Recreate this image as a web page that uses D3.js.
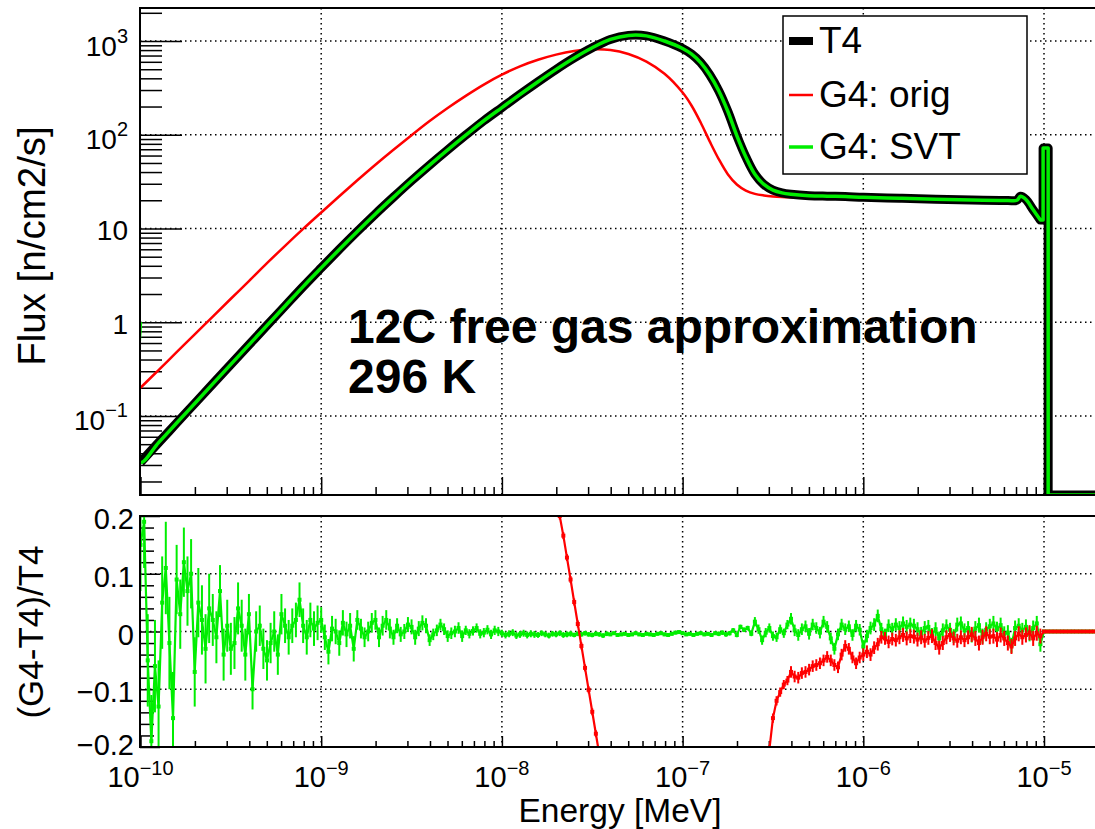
<!DOCTYPE html>
<html>
<head>
<meta charset="utf-8">
<script src="https://cdn.jsdelivr.net/npm/d3@7"></script>
<style>
  body { margin: 0; background: #fff; }
  text { font-family: "Liberation Sans", Arial, sans-serif; fill: #000; }
</style>
</head>
<body>
<svg id="chart" width="1095" height="829"></svg>
<script>
// ---------- data ----------

// top panel: log10(E/MeV) sample points
const topLogE = [
  -10.0, -9.9, -9.8, -9.7, -9.6, -9.5, -9.4, -9.3, -9.2, -9.1,
  -9.0, -8.9, -8.8, -8.7, -8.6, -8.5, -8.4, -8.3, -8.2, -8.1,
  -8.0, -7.9, -7.8, -7.7, -7.6, -7.5, -7.4, -7.3, -7.2, -7.1,
  -7.0, -6.95, -6.9, -6.85, -6.8, -6.75, -6.7, -6.65, -6.6, -6.55,
  -6.5, -6.45, -6.4, -6.3, -6.2, -6.1, -6.0, -5.8, -5.6, -5.4,
  -5.2, -5.15, -5.13, -5.1, -5.06, -5.02, -5.005, -5.005, -4.977, -4.977,
  -4.7
];

// T4 flux [n/cm2/s]
const t4Flux = [
  0.032, 0.052, 0.084, 0.136, 0.220, 0.355, 0.573, 0.925, 1.49, 2.40,
  3.80, 5.98, 9.31, 14.3, 21.6, 32.3, 47.5, 69.0, 99.1, 141,
  195, 269, 368, 498, 660, 848, 1040, 1148, 1135, 1000,
  832, 724, 589, 437, 295, 178, 98, 58, 38, 29.5,
  25.7, 24.0, 23.2, 22.4, 22.1, 21.9, 21.5, 21.0, 20.5, 20.1,
  19.9, 20.0, 22.1, 20.4, 15.8, 12.3, 12.3, 72, 72, 0,
  0
];

// G4: orig flux [n/cm2/s]
const origFlux = [
  0.200, 0.309, 0.479, 0.741, 1.15, 1.78, 2.75, 4.27, 6.53, 9.89,
  14.8, 22.1, 32.7, 47.9, 69.2, 98.9, 140, 193, 260, 343,
  437, 537, 631, 716, 782, 817, 804, 728, 603, 447,
  282, 204, 135, 85, 55, 38, 29.5, 25.4, 23.4, 22.5,
  22.0, 21.7, 21.5, 21.2, 21.0, 20.9, 20.8, 20.7, 20.3, 20.0,
  19.8, 19.9, 22.0, 20.3, 15.8, 12.3, 12.3, 72, 72, 0,
  0
];

// G4: SVT lies on T4 within the line width; its first bin reads 1.0
const svtLogE = [-10.0].concat(topLogE);
const svtFlux = [1.0].concat(t4Flux);

// bottom panel: ratio histogram binning
const ratioStartLogE = -10;
const ratioStepLogE = 0.02;

// (G4:SVT - T4)/T4, one value per bin from 1e-10 to 1e-5, then the flat tail to 2e-5
const svtRatio = [
  // 1e-10 .. 1e-9
  0.15, 0.19, -0.05, -0.19, -0.06, -0.13, 0.05, 0.11, -0.02, -0.15,
  0.09, 0.03, 0.12, 0.07, 0.10, -0.07, 0.05, 0.02, -0.03, 0.04,
  0.02, -0.01, 0.07, -0.04, 0.01, -0.03, -0.02, 0.04, 0.01, -0.04,
  0.03, -0.10, 0.0, 0.01, -0.03, -0.05, -0.02, 0.0, -0.04, 0.03,
  0.01, -0.01, 0.01, 0.02, 0.055, 0.01, -0.01, 0.02, 0.005, 0.015,
  // 1e-9 .. 1e-8
  0.02, -0.01, -0.035, 0.005, 0.0, -0.02, 0.015, -0.005, 0.01, -0.03,
  0.02, 0.005, -0.01, 0.0, 0.015, 0.02, -0.01, 0.01, 0.02, 0.005,
  -0.01, 0.01, -0.005, 0.0, 0.012, 0.008, -0.01, 0.005, 0.015, 0.01,
  -0.015, -0.005, 0.002, 0.012, 0.004, -0.008, -0.003, 0.0, 0.006, -0.008,
  0.002, -0.004, 0.001, 0.006, -0.004, -0.002, 0.003, -0.005, 0.002, 0.0,
  // 1e-8 .. 1e-7
  -0.003, -0.006, -0.004, -0.002, -0.007, -0.005, -0.003, -0.006, -0.004, -0.005,
  -0.006, -0.003, -0.005, -0.007, -0.004, -0.005, -0.003, -0.006, -0.005, -0.004,
  -0.006, -0.004, -0.005, -0.003, -0.005, -0.006, -0.004, -0.005, -0.007, -0.004,
  -0.005, -0.003, -0.006, -0.005, -0.004, -0.006, -0.005, -0.003, -0.005, -0.006,
  -0.004, -0.005, -0.006, -0.004, -0.003, -0.005, -0.006, -0.004, -0.002, -0.001,
  // 1e-7 .. 1e-6
  -0.003, -0.005, -0.004, -0.006, -0.004, -0.003, -0.005, -0.004, -0.006, -0.003,
  -0.004, -0.002, -0.005, -0.003, 0.002, -0.006, 0.008, 0.003, 0.006, -0.004,
  0.017, 0.004, -0.015, -0.002, 0.006, -0.008, -0.01, 0.004, -0.003, 0.012,
  0.022, 0.002, -0.006, 0.004, 0.009, -0.004, 0.012, 0.006, -0.002, 0.017,
  0.008, -0.012, -0.03, -0.005, 0.012, 0.004, 0.009, -0.006, 0.01, 0.003,
  // 1e-6 .. 1e-5
  -0.026, -0.008, 0.006, 0.012, 0.027, 0.004, -0.006, 0.01, 0.004, 0.012,
  0.006, 0.014, 0.008, 0.012, 0.01, 0.004, -0.004, 0.006, 0.008, -0.006,
  0.004, -0.012, 0.002, 0.009, 0.003, -0.008, 0.012, 0.014, 0.002, 0.006,
  -0.006, 0.005, 0.011, -0.008, 0.003, 0.009, 0.014, 0.004, 0.011, -0.004,
  -0.002, -0.024, 0.006, 0.01, 0.002, 0.008, -0.004, 0.006, 0.014, -0.022,
  // 1e-5 .. 2e-5
  0, 0, 0, 0, 0, 0, 0, 0, 0, 0, 0, 0, 0, 0, 0, 0
];

// error half-widths of the SVT ratio, one per 10 bins
const svtRatioErr = [
  0.08, 0.06, 0.045, 0.035, 0.03,
  0.022, 0.017, 0.013, 0.01, 0.008,
  0.006, 0.005, 0.004, 0.003, 0.003,
  0.003, 0.004, 0.008, 0.01, 0.01,
  0.011, 0.012, 0.012, 0.013, 0.013,
  0, 0
];

// (G4:orig - T4)/T4, steep crossing near 3e-8 (first bin index 114)
const origRatioSteepStart = 114;
const origRatioSteep = [
  0.28, 0.24, 0.20, 0.166, 0.128, 0.09, 0.051, 0.013, -0.025, -0.063,
  -0.101, -0.139, -0.177, -0.215, -0.253
];

// (G4:orig - T4)/T4, recovery above 3e-7 (first bin index 173)
const origRatioHighStart = 173;
const origRatioHigh = [
  -0.27, -0.205, -0.15, -0.12, -0.105, -0.092, -0.085, -0.07, -0.078, -0.08,
  -0.072, -0.07, -0.066, -0.06, -0.058, -0.055, -0.05, -0.044, -0.05, -0.058,
  -0.062, -0.04, -0.025, -0.03, -0.045, -0.055, -0.045, -0.04, -0.035, -0.04,
  -0.028, -0.022, -0.01, -0.012, -0.018, -0.013, -0.015, -0.01, -0.006, -0.012,
  -0.008, -0.009, -0.014, -0.01, -0.016, -0.011, -0.008, -0.02, -0.028, -0.02,
  -0.01, -0.006, -0.012, -0.016, -0.01, -0.015, -0.01, -0.005, -0.012, -0.02,
  -0.01, -0.004, -0.009, -0.008, -0.014, -0.006, -0.012, -0.02, -0.026, -0.012,
  -0.004, -0.01, -0.006, -0.002, -0.012, -0.003, -0.008,
  0, 0, 0, 0, 0, 0, 0, 0, 0, 0, 0, 0, 0, 0, 0, 0
];

// axis labels
const energyTicks = [1e-10, 1e-9, 1e-8, 1e-7, 1e-6, 1e-5];
const energyTickExp = ['\u221210', '\u22129', '\u22128', '\u22127', '\u22126', '\u22125'];
const fluxTicks = [0.1, 1, 10, 100, 1000];
const fluxTickLabels = [['10', '\u22121'], ['1', null], ['10', null], ['10', '2'], ['10', '3']];
const ratioTicks = [-0.2, -0.1, 0, 0.1, 0.2];
const ratioTickLabels = ['\u22120.2', '\u22120.1', '0', '0.1', '0.2'];

const legendEntries = ['T4', 'G4: orig', 'G4: SVT'];
const annotation = ['12C free gas approximation', '296 K'];

const colors = { t4: '#000000', orig: '#ff0000', svt: '#00ee00' };

// ---------- drawing ----------

const svg = d3.select('#chart');

const xScale = d3.scaleLog().domain([1e-10, 2e-5]).range([140.5, 1098.4]);
const yFlux = d3.scaleLog().domain([0.01435, 2250]).range([495, 8]);
const yRatio = d3.scaleLinear().domain([-0.2, 0.2]).range([747, 516]);

const defs = svg.append('defs');
defs.append('clipPath').attr('id', 'clip-top')
  .append('rect').attr('x', 139).attr('y', 8).attr('width', 961).attr('height', 487);
defs.append('clipPath').attr('id', 'clip-bottom')
  .append('rect').attr('x', 139).attr('y', 516).attr('width', 961).attr('height', 231);

// minor tick lists for log axes
function logMinorTicks(lo, hi) {
  const out = [];
  for (let p = Math.floor(Math.log10(lo)); p <= Math.ceil(Math.log10(hi)); p++) {
    for (let k = 2; k <= 9; k++) {
      const v = k * Math.pow(10, p);
      if (v >= lo && v <= hi) out.push(v);
    }
  }
  return out;
}
const energyMinor = logMinorTicks(1e-10, 2e-5);
const fluxMinor = logMinorTicks(0.01435, 2250);
const ratioMinor = d3.range(-0.18, 0.19, 0.02).filter(v => Math.abs(v * 10 - Math.round(v * 10)) > 1e-6);

// ----- grids -----
function drawGrid(g, yScale, yGrid, y0, y1) {
  g.selectAll('.gx').data(energyTicks.slice(1)).enter().append('line')
    .attr('x1', d => xScale(d)).attr('x2', d => xScale(d))
    .attr('y1', y0).attr('y2', y1);
  g.selectAll('.gy').data(yGrid).enter().append('line')
    .attr('x1', 140).attr('x2', 1100)
    .attr('y1', d => yScale(d)).attr('y2', d => yScale(d));
  g.selectAll('line')
    .attr('stroke', '#000').attr('stroke-width', 1.5)
    .attr('stroke-dasharray', '1.5,3.5');
}
drawGrid(svg.append('g'), yFlux, fluxTicks, 8, 495);
drawGrid(svg.append('g'), yRatio, [-0.1, 0, 0.1], 516, 747);

// ----- ticks via d3 axes (no labels) -----
function ticks(axis, values, size, transform) {
  const g = svg.append('g').attr('transform', transform)
    .call(axis.tickValues(values).tickSize(size).tickSizeOuter(0).tickFormat(''));
  g.select('.domain').remove();
  g.selectAll('line').attr('stroke', '#000').attr('stroke-width', 1.5);
}
ticks(d3.axisRight(yFlux), fluxTicks, 42, 'translate(140,0)');
ticks(d3.axisRight(yFlux), fluxMinor, 22, 'translate(140,0)');
ticks(d3.axisTop(xScale), energyTicks, 18, 'translate(0,495)');
ticks(d3.axisTop(xScale), energyMinor, 8, 'translate(0,495)');
ticks(d3.axisRight(yRatio), ratioTicks, 20, 'translate(140,0)');
ticks(d3.axisRight(yRatio), ratioMinor, 14, 'translate(140,0)');
ticks(d3.axisTop(xScale), energyTicks, 11, 'translate(0,747)');
ticks(d3.axisTop(xScale), energyMinor, 6, 'translate(0,747)');

// ----- top panel curves -----
const fluxMin = yFlux.domain()[0];
const fluxX = d => xScale(Math.pow(10, d[0]));
const fluxY = d => yFlux(Math.max(d[1], fluxMin));
const smoothLine = d3.line().x(fluxX).y(fluxY).curve(d3.curveCatmullRom.alpha(0.5));
const stepLine = d3.line().x(fluxX).y(fluxY);

// smooth body up to the 1e-5 cut-off, straight segments for the edge structure
function fluxPath(logE, flux) {
  const pts = d3.zip(logE, flux);
  const cut = pts.findIndex(d => d[0] >= -5.02);
  return smoothLine(pts.slice(0, cut + 1)) + stepLine(pts.slice(cut)).replace(/^M/, 'L');
}

const topG = svg.append('g').attr('clip-path', 'url(#clip-top)');
topG.append('path')
  .attr('d', fluxPath(topLogE, origFlux))
  .attr('fill', 'none').attr('stroke', colors.orig).attr('stroke-width', 2.5);
topG.append('path')
  .attr('d', fluxPath(topLogE, t4Flux))
  .attr('fill', 'none').attr('stroke', colors.t4).attr('stroke-width', 9)
  .attr('stroke-linejoin', 'round');
topG.append('path')
  .attr('d', fluxPath(svtLogE, svtFlux))
  .attr('fill', 'none').attr('stroke', colors.svt).attr('stroke-width', 3.5)
  .attr('stroke-linejoin', 'round');

// ----- bottom panel ratios -----
function ratioPoints(values, startBin, errs) {
  return values.map((v, i) => {
    const bin = startBin + i;
    return {
      e: Math.pow(10, ratioStartLogE + bin * ratioStepLogE),
      v: v,
      err: errs ? errs[Math.floor(bin / 10)] : 0.006
    };
  });
}
const ratioLine = d3.line().x(d => xScale(d.e)).y(d => yRatio(d.v));

function drawRatio(g, pts, color) {
  g.append('path').attr('d', ratioLine(pts))
    .attr('fill', 'none').attr('stroke', color).attr('stroke-width', 2.2);
  g.selectAll(null).data(pts.filter(d => d.err > 0)).enter().append('line')
    .attr('x1', d => xScale(d.e)).attr('x2', d => xScale(d.e))
    .attr('y1', d => yRatio(d.v - d.err)).attr('y2', d => yRatio(d.v + d.err))
    .attr('stroke', color).attr('stroke-width', 2);
  g.selectAll(null).data(pts).enter().append('rect')
    .attr('x', d => xScale(d.e) - 2).attr('y', d => yRatio(d.v) - 2)
    .attr('width', 4).attr('height', 4).attr('fill', color);
}

const botG = svg.append('g').attr('clip-path', 'url(#clip-bottom)');
drawRatio(botG, ratioPoints(svtRatio, 0, svtRatioErr), colors.svt);
drawRatio(botG, ratioPoints(origRatioSteep, origRatioSteepStart, null), colors.orig);
drawRatio(botG, ratioPoints(origRatioHigh, origRatioHighStart, svtRatioErr), colors.orig);

// ----- frames -----
const frame = svg.append('g').attr('stroke', '#000').attr('stroke-width', 2);
frame.append('path').attr('fill', 'none').attr('d', 'M1100,8H140V495H1100');
frame.append('path').attr('fill', 'none').attr('d', 'M1100,516H140V747H1100');

// ----- tick labels -----
const labelG = svg.append('g');
fluxTicks.forEach((v, i) => {
  const [base, exp] = fluxTickLabels[i];
  const t = labelG.append('text')
    .attr('x', 128).attr('y', yFlux(v) + (exp ? 14.5 : 11.5))
    .attr('text-anchor', 'end').attr('font-size', 28).text(base);
  if (exp) {
    t.append('tspan').attr('dy', -13).attr('font-size', 20).text(exp);
  }
});
ratioTicks.forEach((v, i) => {
  labelG.append('text')
    .attr('x', 134).attr('y', yRatio(v) + (v === -0.2 ? 8 : 13))
    .attr('text-anchor', 'end').attr('font-size', 29).text(ratioTickLabels[i]);
});
energyTicks.forEach((v, i) => {
  const t = labelG.append('text')
    .attr('x', xScale(v)).attr('y', 787)
    .attr('text-anchor', 'middle').attr('font-size', 29).text('10');
  t.append('tspan').attr('dy', -12).attr('font-size', 20).text(energyTickExp[i]);
});

// ----- axis titles -----
svg.append('text')
  .attr('transform', 'translate(45,246) rotate(-90)')
  .attr('text-anchor', 'middle').attr('font-size', 38.5)
  .text('Flux [n/cm2/s]');
svg.append('text')
  .attr('transform', 'translate(43,632) rotate(-90)')
  .attr('text-anchor', 'middle').attr('font-size', 35)
  .text('(G4-T4)/T4');
svg.append('text')
  .attr('x', 620).attr('y', 822)
  .attr('text-anchor', 'middle').attr('font-size', 33.5)
  .text('Energy [MeV]');

// ----- annotation -----
svg.append('g').selectAll('text').data(annotation).enter().append('text')
  .attr('x', 348).attr('y', (d, i) => 343 + i * 50)
  .attr('font-size', 48).attr('font-weight', 'bold')
  .text(d => d);

// ----- legend -----
const legend = svg.append('g');
legend.append('rect')
  .attr('x', 783).attr('y', 16).attr('width', 244).attr('height', 158)
  .attr('fill', '#fff').attr('stroke', '#000').attr('stroke-width', 1.5);
const legendStyle = [
  { color: colors.t4, width: 8 },
  { color: colors.orig, width: 2.5 },
  { color: colors.svt, width: 3.5 }
];
const legendBase = [53, 107, 159];
legendEntries.forEach((name, i) => {
  const cy = legendBase[i] - 12;
  legend.append('line')
    .attr('x1', 789).attr('x2', 813).attr('y1', cy).attr('y2', cy)
    .attr('stroke', legendStyle[i].color).attr('stroke-width', legendStyle[i].width);
  legend.append('text')
    .attr('x', 819).attr('y', legendBase[i])
    .attr('font-size', 37).text(name);
});
</script>
</body>
</html>
